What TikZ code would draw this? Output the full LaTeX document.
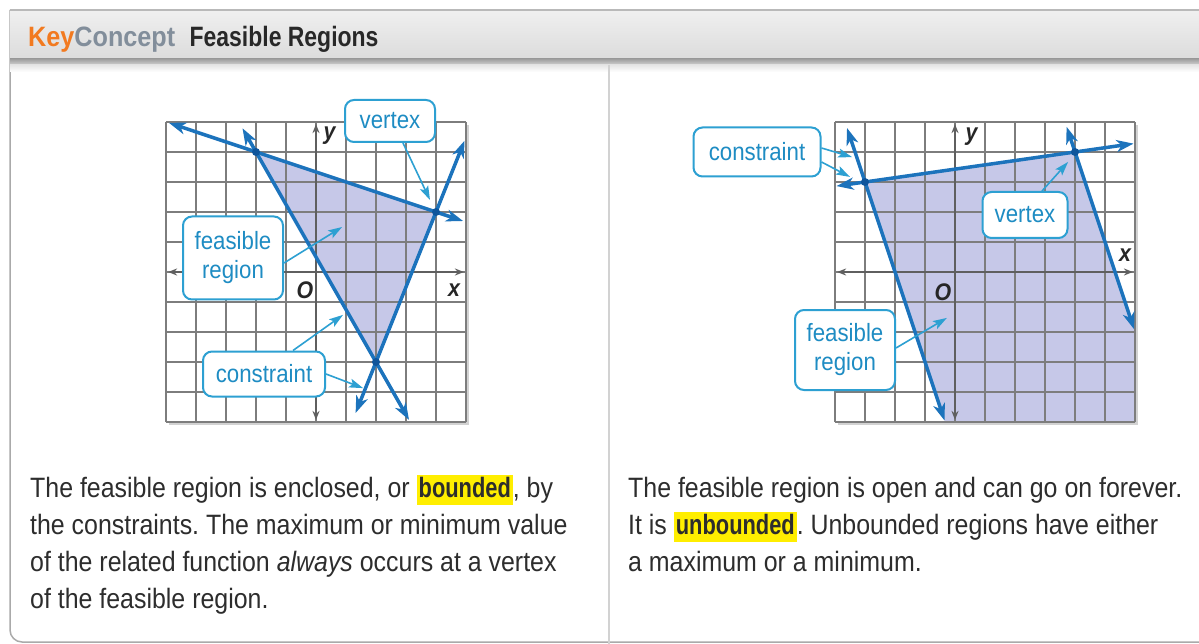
\documentclass[tikz,border=0pt]{standalone}
\usepackage{fontspec}
\setmainfont{Liberation Sans}[FakeStretch=0.89, BoldFeatures={FakeStretch=0.78}]
\newfontfamily\keyfont{Liberation Sans}[FakeStretch=0.9]
\newfontfamily\headfont{Liberation Sans}[FakeStretch=0.82]
\usepackage{tikz}
\usetikzlibrary{arrows.meta,calc,positioning}
\definecolor{lineBlue}{RGB}{28,115,188}
\definecolor{dotBlue}{RGB}{15,85,155}
\definecolor{calloutBlue}{RGB}{45,160,210}
\definecolor{calloutText}{RGB}{30,140,195}
\definecolor{regionFill}{RGB}{198,200,232}
\definecolor{gridGray}{RGB}{125,125,125}
\definecolor{axisGray}{RGB}{95,95,95}
\definecolor{keyOrange}{RGB}{242,122,32}
\definecolor{conceptGray}{RGB}{130,142,155}
\definecolor{titleDark}{RGB}{40,40,40}
\definecolor{bodyText}{RGB}{45,45,45}
\definecolor{hlYellow}{RGB}{255,238,0}
\definecolor{frameGray}{RGB}{170,170,170}
\newcommand{\hlword}[1]{{\setlength{\fboxsep}{2pt}\smash{\colorbox{hlYellow}{\rule[-6pt]{0pt}{26pt}\textbf{#1}}}}}
\frenchspacing

\begin{document}
\begin{tikzpicture}[x=1pt,y=-1pt,
  bound/.style={lineBlue, line width=3.5pt, {Stealth[length=17pt,width=12pt,inset=5pt]}-{Stealth[length=17pt,width=12pt,inset=5pt]}},
  axisline/.style={axisGray, line width=2pt, {Stealth[length=9pt,width=7pt]}-{Stealth[length=9pt,width=7pt]}},
  gridline/.style={gridGray, line width=1.2pt},
  callout/.style={draw=calloutBlue, line width=2pt, rounded corners=9pt, fill=white, text=calloutText, font=\fontsize{25}{29}\selectfont, align=center, inner sep=0pt},
  pointer/.style={calloutBlue, line width=1.6pt, -{Stealth[length=14pt,width=9pt,inset=3pt]}},
  vdot/.style={circle, fill=dotBlue, inner sep=0pt, minimum size=8pt},
  axlabel/.style={font=\fontsize{24}{24}\selectfont\bfseries\itshape, text=black!85, inner sep=0pt},
  body/.style={anchor=north west, inner sep=0pt, align=left, text=bodyText, font=\fontsize{28}{37}\selectfont}]
  \useasboundingbox (0,0) rectangle (1199,644);
  \fill[white] (0,0) rectangle (1199,644);

  % 1. Frame and header bar
  \draw[frameGray, line width=1.5pt, rounded corners=12pt] (10,10) -- (10,642) -- (1210,642);
  \shade[top color=gray!12, middle color=white, bottom color=gray!28] (10,10) rectangle (1199,60);
  \draw[gray!55, line width=1.5pt] (10,10) -- (1199,10);
  \shade[top color=gray!75, bottom color=gray!35] (10,59) rectangle (1199,65);
  \shade[top color=gray!20, bottom color=white] (10,65) rectangle (1199,72);
  \draw[gray!35, line width=2pt] (609,65) -- (609,644);
  \node[anchor=base west, inner sep=0pt, font=\fontsize{28}{28}\keyfont\bfseries] (keyTag) at (28,47) {\textcolor{keyOrange}{Key}\textcolor{conceptGray}{Concept}};
  \node[right=14pt of keyTag.base east, anchor=base west, inner sep=0pt, text=titleDark, font=\fontsize{28}{28}\headfont\bfseries] (title) {Feasible Regions};

  % 2. Bounded region
  \begin{scope}[shift={(316,272)}, x=30pt, y=30pt]
  \fill[gray!35] (-4.9,-5.1) rectangle (5.1,4.9);
  \fill[white] (-5,-5) rectangle (5,5);
  \fill[regionFill] (-2,4) -- (4,2) -- (2,-3) -- cycle;
  \draw[gridline, step=1] (-5,-5) grid (5,5);
  \draw[axisline] (-4.93,0) -- (4.93,0);
  \draw[axisline] (0,-4.93) -- (0,4.93);
  \node[axlabel] (ly) at (0.45,4.55) {y};
  \node[axlabel] (lx) at (4.6,-0.6) {x};
  \node[axlabel] (lo) at (-0.37,-0.6) {O};
  \coordinate (la1) at (-4.9,4.97);  \coordinate (la2) at (4.9,1.7);
  \coordinate (lb1) at (-2.45,4.79); \coordinate (lb2) at (3.1,-4.93);
  \coordinate (lc1) at (1.32,-4.7);  \coordinate (lc2) at (4.95,4.375);
  \draw[bound] (la1) -- (la2);
  \draw[bound] (lb1) -- (lb2);
  \draw[bound] (lc1) -- (lc2);
  \node[vdot] (lv1) at (-2,4) {};
  \node[vdot] (lv2) at (4,2) {};
  \node[vdot] (lv3) at (2,-3) {};
  \coordinate (lvPt) at (3.8,2.4);
  \coordinate (lfPt) at (0.87,1.5);
  \coordinate (lcPt1) at (0.9,-1.43);
  \coordinate (lcPt2) at (1.57,-3.87);
  \end{scope}

  \node[callout, minimum width=90pt, minimum height=42pt] (vertexL) at (390,121) {vertex};
  \node[callout, minimum width=100pt, minimum height=83pt] (feasL) at (233,258) {feasible\\region};
  \node[callout, minimum width=122pt, minimum height=45pt] (consL) at (264,374) {constraint};
  \draw[pointer] ([xshift=13pt]vertexL.south) -- (lvPt);
  \draw[pointer] ([yshift=-5pt]feasL.east) -- (lfPt);
  \draw[pointer] ([xshift=29pt]consL.north) -- (lcPt1);
  \draw[pointer] (consL.east) -- (lcPt2);

  % 3. Unbounded region
  \begin{scope}[shift={(955,272)}, x=30pt, y=30pt]
  \fill[gray!35] (-3.9,-5.1) rectangle (6.1,4.9);
  \fill[white] (-4,-5) rectangle (6,5);
  \fill[regionFill] (-3,3) -- (4,4) -- (6,-2) -- (6,-5) -- (-0.333,-5) -- cycle;
  \draw[gridline, step=1] (-4,-5) grid (6,5);
  \draw[axisline] (-3.93,0) -- (5.93,0);
  \draw[axisline] (0,-4.93) -- (0,4.93);
  \node[axlabel] (ry) at (0.55,4.5) {y};
  \node[axlabel] (rx) at (5.67,0.55) {x};
  \node[axlabel] (ro) at (-0.4,-0.67) {O};
  \coordinate (ra1) at (-3.95,2.864); \coordinate (ra2) at (5.95,4.279);
  \coordinate (rb1) at (-3.6,4.8);    \coordinate (rb2) at (-0.35,-4.95);
  \coordinate (rc1) at (3.72,4.84);   \coordinate (rc2) at (5.97,-1.91);
  \draw[bound] (ra1) -- (ra2);
  \draw[bound] (rb1) -- (rb2);
  \draw[bound] (rc1) -- (rc2);
  \node[vdot] (rv1) at (-3,3) {};
  \node[vdot] (rv2) at (4,4) {};
  \coordinate (rcPt1) at (-3.43,3.83);
  \coordinate (rcPt2) at (-3.5,3.17);
  \coordinate (rvPt) at (3.77,3.67);
  \coordinate (rfPt) at (-0.27,-1.53);
  \end{scope}

  \node[callout, minimum width=127pt, minimum height=49pt] (consR) at (757,152) {constraint};
  \node[callout, minimum width=85pt, minimum height=46pt] (vertexR) at (1025,215) {vertex};
  \node[callout, minimum width=100pt, minimum height=80pt] (feasR) at (845,350) {feasible\\region};
  \draw[pointer] ([yshift=4pt]consR.east) -- (rcPt1);
  \draw[pointer] ([yshift=-10pt]consR.east) -- (rcPt2);
  \draw[pointer] ([xshift=17pt]vertexR.north) -- (rvPt);
  \draw[pointer] ([yshift=2pt]feasR.east) -- (rfPt);

  % 4. Captions
  \node[body] (leftText) at (30,477) {The feasible region is enclosed, or \hlword{bounded}, by\\
    the constraints. The maximum or minimum value\\
    of the related function \textit{always} occurs at a vertex\\
    of the feasible region.};
  \node[body] (rightText) at (628,477) {The feasible region is open and can go on forever.\\
    It is \hlword{unbounded}. Unbounded regions have either\\
    a maximum or a minimum.};
\end{tikzpicture}
\end{document}
